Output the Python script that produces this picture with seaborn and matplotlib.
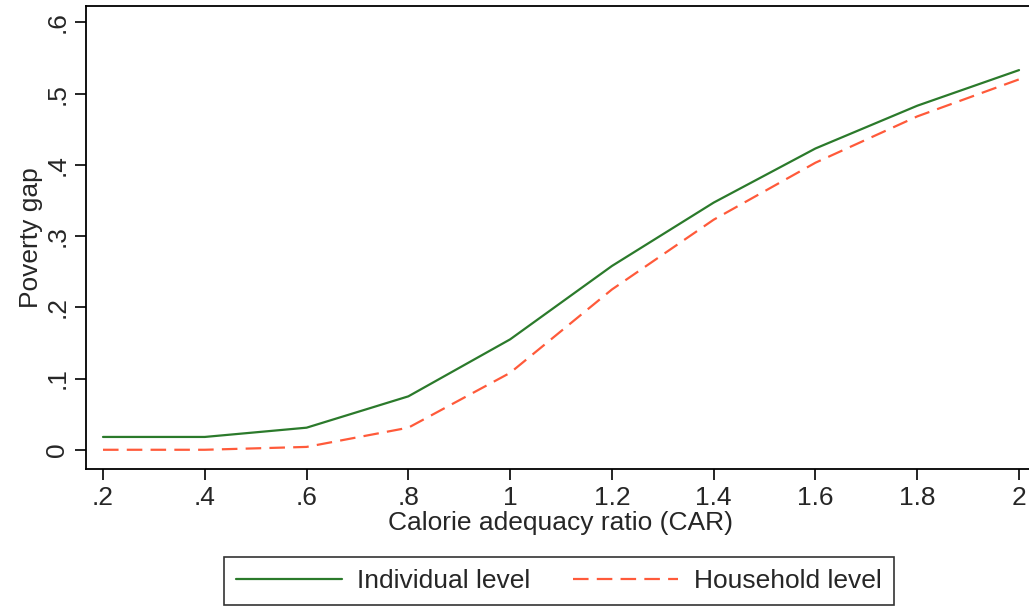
import numpy as np
import pandas as pd
import matplotlib
matplotlib.use('Agg')
import matplotlib.pyplot as plt
import seaborn as sns
from matplotlib.lines import Line2D

car = [0.2, 0.4, 0.6, 0.8, 1.0, 1.2, 1.4, 1.6, 1.8, 2.0]
individual = [0.018, 0.018, 0.031, 0.075, 0.155, 0.258, 0.347, 0.423, 0.483, 0.533]
household = [0.0, 0.0, 0.004, 0.031, 0.108, 0.225, 0.323, 0.403, 0.468, 0.520]
x_ticks = [0.2, 0.4, 0.6, 0.8, 1.0, 1.2, 1.4, 1.6, 1.8, 2.0]
x_labels = ['.2', '.4', '.6', '.8', '1', '1.2', '1.4', '1.6', '1.8', '2']
y_ticks = [0, 0.1, 0.2, 0.3, 0.4, 0.5, 0.6]
y_labels = ['0', '.1', '.2', '.3', '.4', '.5', '.6']

df = pd.DataFrame({'car': car * 2,
                   'gap': individual + household,
                   'level': ['Individual level'] * len(car) + ['Household level'] * len(car)})

green = '#2b7a2b'
orange = '#ff5a3a'

sns.set_style('white')
plt.rcParams['font.family'] = ['Liberation Sans', 'DejaVu Sans']

fig = plt.figure(figsize=(10.29, 6.09), dpi=100)
# axes box: left edge 86px, bottom 469px, top 6px, runs off the right edge
ax = fig.add_axes([86/1029, 1 - 469/609, 1 - 86/1029 + 0.005, (469 - 6)/609])

sns.lineplot(data=df, x='car', y='gap', hue='level', style='level',
             palette={'Individual level': green, 'Household level': orange},
             dashes={'Individual level': '', 'Household level': (7, 3.7)},
             linewidth=1.6, ax=ax, legend=False)

ax.set_xlim(0.1666, 2.0196 + 0.005 * 1029 / 509)
ax.set_ylim(-0.027, 0.623)
ax.set_xticks(x_ticks)
ax.set_xticklabels(x_labels, fontsize=19)
ax.set_yticks(y_ticks)
ax.set_yticklabels(y_labels, fontsize=19, rotation=90, va='center')
ax.tick_params(axis='both', direction='out', length=8, width=1.2, color='black',
               left=True, bottom=True, pad=4)
for s in ax.spines.values():
    s.set_color('black')
    s.set_linewidth(1.3)
ax.set_xlabel('Calorie adequacy ratio (CAR)', fontsize=19, labelpad=1)
ax.set_ylabel('Poverty gap', fontsize=19, labelpad=2)

handles = [Line2D([], [], color=green, lw=1.6),
           Line2D([], [], color=orange, lw=1.6, dashes=(7, 3.7))]
leg = fig.legend(handles, ['Individual level', 'Household level'],
                 loc='center', bbox_to_anchor=(559/1029, 1 - 581/609), ncol=2,
                 fontsize=19, frameon=True, fancybox=False, handlelength=4,
                 columnspacing=1.6, borderpad=0.45, handletextpad=0.6)
leg.get_frame().set_edgecolor('black')
leg.get_frame().set_linewidth(1.2)

fig.savefig('out.png', dpi=100, facecolor='white')
